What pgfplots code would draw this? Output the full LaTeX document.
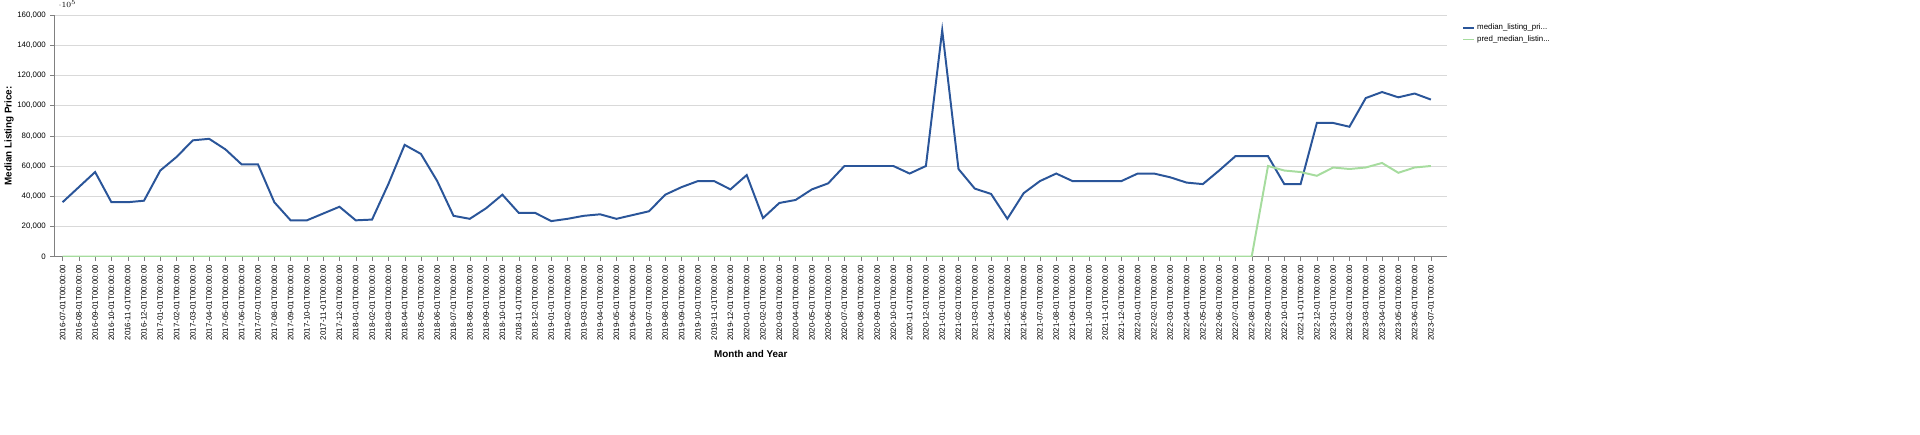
\documentclass[border=0pt]{standalone}
\usepackage{pgfplots}
\pgfplotsset{compat=1.18}
\usepackage{fontspec}
\setmainfont{Liberation Sans}
\definecolor{cblue}{HTML}{2A5599}
\definecolor{cgreen}{HTML}{A6DC9E}
\begin{document}
\begin{tikzpicture}
\path (0,0) rectangle (1440pt,325.5pt);
\begin{axis}[at={(18.75pt,135.75pt)}, anchor=south west, scale only axis,
 width=1061pt, height=184pt,
 xmin=-0.5, xmax=85, ymin=0, ymax=160000,
 axis x line=bottom, axis y line=left, axis line style={gray,-},
 ytick={0,20000,40000,60000,80000,100000,120000,140000,160000},
 yticklabels={0,{20,000},{40,000},{60,000},{80,000},{100,000},{120,000},{140,000},{160,000}},
 ymajorgrids, grid style={gray!30},
 xtick={0,...,84}, tick style={gray}, major tick length=3pt,
 tick align=outside,
 yticklabel style={font=\fontsize{6}{7}\selectfont},
 xticklabel style={font=\fontsize{6}{7}\selectfont, rotate=90, anchor=east},
 xticklabels={2016-07-01T00:00:00,2016-08-01T00:00:00,2016-09-01T00:00:00,2016-10-01T00:00:00,2016-11-01T00:00:00,2016-12-01T00:00:00,
2017-01-01T00:00:00,2017-02-01T00:00:00,2017-03-01T00:00:00,2017-04-01T00:00:00,2017-05-01T00:00:00,2017-06-01T00:00:00,2017-07-01T00:00:00,2017-08-01T00:00:00,2017-09-01T00:00:00,2017-10-01T00:00:00,2017-11-01T00:00:00,2017-12-01T00:00:00,
2018-01-01T00:00:00,2018-02-01T00:00:00,2018-03-01T00:00:00,2018-04-01T00:00:00,2018-05-01T00:00:00,2018-06-01T00:00:00,2018-07-01T00:00:00,2018-08-01T00:00:00,2018-09-01T00:00:00,2018-10-01T00:00:00,2018-11-01T00:00:00,2018-12-01T00:00:00,
2019-01-01T00:00:00,2019-02-01T00:00:00,2019-03-01T00:00:00,2019-04-01T00:00:00,2019-05-01T00:00:00,2019-06-01T00:00:00,2019-07-01T00:00:00,2019-08-01T00:00:00,2019-09-01T00:00:00,2019-10-01T00:00:00,2019-11-01T00:00:00,2019-12-01T00:00:00,
2020-01-01T00:00:00,2020-02-01T00:00:00,2020-03-01T00:00:00,2020-04-01T00:00:00,2020-05-01T00:00:00,2020-06-01T00:00:00,2020-07-01T00:00:00,2020-08-01T00:00:00,2020-09-01T00:00:00,2020-10-01T00:00:00,2020-11-01T00:00:00,2020-12-01T00:00:00,
2021-01-01T00:00:00,2021-02-01T00:00:00,2021-03-01T00:00:00,2021-04-01T00:00:00,2021-05-01T00:00:00,2021-06-01T00:00:00,2021-07-01T00:00:00,2021-08-01T00:00:00,2021-09-01T00:00:00,2021-10-01T00:00:00,2021-11-01T00:00:00,2021-12-01T00:00:00,
2022-01-01T00:00:00,2022-02-01T00:00:00,2022-03-01T00:00:00,2022-04-01T00:00:00,2022-05-01T00:00:00,2022-06-01T00:00:00,2022-07-01T00:00:00,2022-08-01T00:00:00,2022-09-01T00:00:00,2022-10-01T00:00:00,2022-11-01T00:00:00,2022-12-01T00:00:00,
2023-01-01T00:00:00,2023-02-01T00:00:00,2023-03-01T00:00:00,2023-04-01T00:00:00,2023-05-01T00:00:00,2023-06-01T00:00:00,2023-07-01T00:00:00},
 xlabel={\bfseries Month and Year}, ylabel={\bfseries Median Listing Price:},
 label style={font=\fontsize{7.5}{9}\selectfont},
 ylabel style={yshift=-4pt},
 legend style={at={(rel axis cs:1.008,0.985)}, anchor=north west, draw=none, font=\fontsize{6}{7}\selectfont, row sep=-1pt},
 legend cell align=left,
 legend image code/.code={\draw[#1,line width=1.2pt] (0pt,0pt) -- (8pt,0pt);},
]
\addplot[cblue, line width=1.5pt] coordinates {
(0,36000)(1,46000)(2,56000)(3,36000)(4,36000)(5,37000)(6,57000)(7,66000)(8,77000)(9,78000)
(10,71000)(11,61000)(12,61000)(13,36000)(14,24000)(15,24000)(16,28500)(17,33000)(18,24000)(19,24500)
(20,48000)(21,74000)(22,68000)(23,50000)(24,27000)(25,25000)(26,32000)(27,41000)(28,29000)(29,29000)
(30,23500)(31,25000)(32,27000)(33,28000)(34,25000)(35,27500)(36,30000)(37,41000)(38,46000)(39,50000)
(40,50000)(41,44500)(42,54000)(43,25500)(44,35500)(45,37500)(46,44500)(47,48500)(48,60000)(49,60000)
(50,60000)(51,60000)(52,55000)(53,60000)(54,150000)(55,58000)(56,45000)(57,41500)(58,25000)(59,42000)
(60,50000)(61,55000)(62,50000)(63,50000)(64,50000)(65,50000)(66,55000)(67,55000)(68,52500)(69,49000)
(70,48000)(71,57000)(72,66500)(73,66500)(74,66500)(75,48000)(76,48000)(77,88500)(78,88500)(79,86000)
(80,105000)(81,109000)(82,105500)(83,108000)(84,104000)};
\addlegendentry{median\_listing\_pri...}
\addplot[cgreen, line width=1.5pt] coordinates {
(0,0)(73,0)(74,60000)(75,57000)(76,56000)(77,53500)(78,59000)(79,58000)(80,59000)(81,62000)(82,55500)(83,59000)(84,60000)};
\addlegendentry{pred\_median\_listin...}
\node[anchor=north west, font=\bfseries\fontsize{7}{8}\selectfont] at (rel axis cs:1.008,1.005) {Key};
\end{axis}
\end{tikzpicture}
\end{document}
